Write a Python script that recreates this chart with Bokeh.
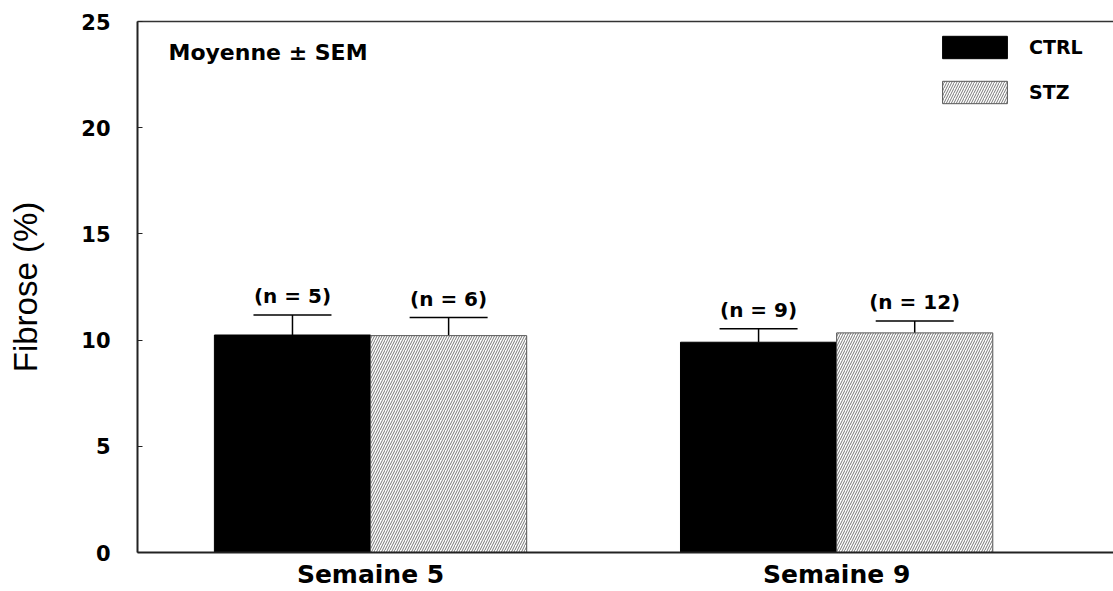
from bokeh.plotting import figure
from bokeh.models import (ColumnDataSource, Whisker, TeeHead, Legend, LegendItem,
                          LinearAxis, FixedTicker, Label)
from bokeh.core.properties import value
from bokeh.embed import file_html
from bokeh.resources import INLINE

# ---- data ----
weeks = ["Semaine 5", "Semaine 9"]
groups = ["CTRL", "STZ"]
ctrl_mean = [10.24, 9.90]
ctrl_sem = [0.94, 0.64]
stz_mean = [10.21, 10.34]
stz_sem = [0.85, 0.56]
ctrl_n = [5, 9]
stz_n = [6, 12]
y_ticks = [0, 5, 10, 15, 20, 25]

# ---- layout ----
week_pos = [1, 2]
bar_w = 0.335
off = bar_w / 2

p = figure(width=1113, height=591, output_backend="svg", toolbar_location=None,
           x_range=(0.5, 2.594), y_range=(0, 25),
           min_border_left=137, min_border_top=21, min_border_right=0, min_border_bottom=39)
p.outline_line_color = None
p.grid.grid_line_color = None
p.background_fill_color = "white"

def mk(means, sems, ns, shift):
    return ColumnDataSource(dict(
        x=[w + shift for w in week_pos],
        top=means,
        upper=[m + s for m, s in zip(means, sems)],
        lab=["(n = %d)" % n for n in ns],
    ))

src_c = mk(ctrl_mean, ctrl_sem, ctrl_n, -off)
src_s = mk(stz_mean, stz_sem, stz_n, off)

r_c = p.vbar(x="x", top="top", width=bar_w, source=src_c, fill_color="black",
             line_color="black", line_width=1)
r_s = p.vbar(x="x", top="top", width=bar_w, source=src_s, fill_color="white",
             line_color="#555555", line_width=1,
             hatch_pattern="/", hatch_color="#666666", hatch_scale=5, hatch_weight=0.9)

for src in (src_c, src_s):
    w = Whisker(base="x", upper="upper", lower="top", source=src, dimension="height",
                line_color="black", line_width=1.5,
                upper_head=TeeHead(size=78, line_color="black", line_width=1.5),
                lower_head=None)
    p.add_layout(w)
    p.text(x="x", y="upper", text="lab", source=src, y_offset=-19,
           text_align="center", text_baseline="middle",
           text_font=value("DejaVu Sans"), text_font_style="bold",
           text_font_size="20px", text_color="black")

# annotation
p.add_layout(Label(x=0.5665, y=23.53, text="Moyenne ± SEM", text_baseline="middle",
                   text_font="DejaVu Sans", text_font_style="bold",
                   text_font_size="22px", text_color="black"))

# axes
p.yaxis.ticker = FixedTicker(ticks=y_ticks)
p.yaxis.axis_label = "Fibrose (%)"
p.yaxis.axis_label_text_font = "Liberation Sans"
p.yaxis.axis_label_text_font_style = "normal"
p.yaxis.axis_label_text_font_size = "33px"
p.yaxis.axis_label_text_color = "black"
p.yaxis.axis_label_standoff = 34
p.yaxis.major_label_text_font = "DejaVu Sans"
p.yaxis.major_label_text_font_style = "bold"
p.yaxis.major_label_text_font_size = "21px"
p.yaxis.major_label_text_color = "black"
p.yaxis.major_label_standoff = 27
p.yaxis.major_tick_in = 5
p.yaxis.major_tick_out = 0
p.yaxis.minor_tick_line_color = None
p.yaxis.axis_line_width = 2
p.yaxis.axis_line_color = "#222222"
p.yaxis.major_tick_line_color = "#222222"

p.xaxis.ticker = FixedTicker(ticks=week_pos)
p.xaxis.major_label_overrides = {wp: wk for wp, wk in zip(week_pos, weeks)}
p.xaxis.major_label_text_font = "DejaVu Sans"
p.xaxis.major_label_text_font_style = "bold"
p.xaxis.major_label_text_font_size = "25px"
p.xaxis.major_label_text_color = "black"
p.xaxis.major_label_standoff = 7
p.xaxis.major_tick_in = 0
p.xaxis.major_tick_out = 0
p.xaxis.minor_tick_line_color = None
p.xaxis.axis_line_width = 2
p.xaxis.axis_line_color = "#222222"

top_axis = LinearAxis(ticker=FixedTicker(ticks=[]), axis_line_width=1.5,
                      axis_line_color="#333333", major_tick_in=0, major_tick_out=0,
                      minor_tick_line_color=None, major_label_text_font_size="0px")
p.add_layout(top_axis, "above")

legend = Legend(items=[LegendItem(label=groups[0], renderers=[r_c]),
                       LegendItem(label=groups[1], renderers=[r_s])],
                location=(797, 446), padding=0, margin=0, spacing=17,
                glyph_width=81, glyph_height=28, label_standoff=14,
                label_text_font="DejaVu Sans", label_text_font_style="bold",
                label_text_font_size="19px", label_text_color="black",
                border_line_color=None, background_fill_alpha=0)
p.add_layout(legend)

open("out.html", "w").write(file_html(p, INLINE))
